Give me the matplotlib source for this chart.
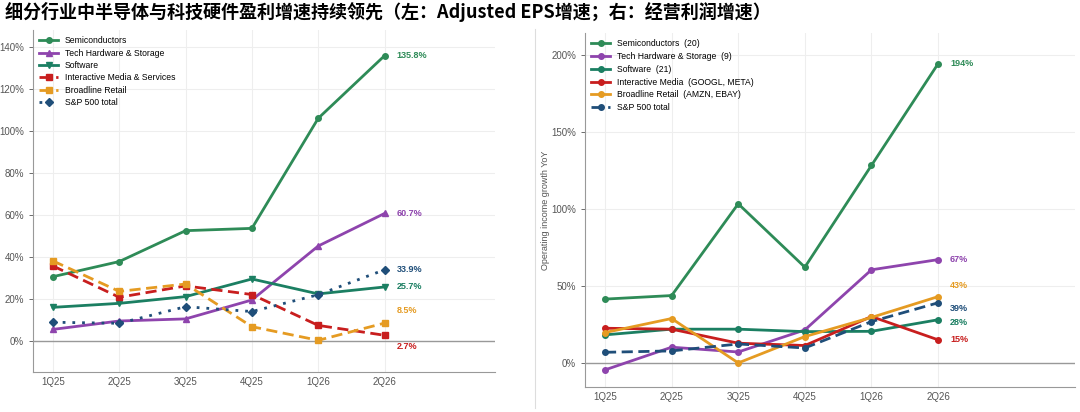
import matplotlib
matplotlib.use("Agg")
import matplotlib.pyplot as plt
from matplotlib.lines import Line2D
from matplotlib.ticker import FuncFormatter

plt.rcParams['font.family'] = ['Liberation Sans', 'DejaVu Sans']

quarters = ["1Q25", "2Q25", "3Q25", "4Q25", "1Q26", "2Q26"]

# 左：Adjusted EPS 增速 (%)
eps_semi = [30.6, 37.8, 52.5, 53.6, 106.0, 135.8]
eps_hw = [5.5, 9.5, 10.5, 19.5, 45.2, 60.7]
eps_soft = [16.0, 17.9, 21.1, 29.5, 22.4, 25.7]
eps_media = [35.7, 20.8, 26.2, 22.1, 7.4, 2.7]
eps_retail = [38.1, 23.6, 27.1, 6.8, 0.3, 8.5]
eps_spx = [8.9, 8.4, 16.3, 14.0, 22.0, 33.9]

# 右：经营利润增速 (%)
op_semi = [41.4, 43.7, 103.2, 62.1, 128.1, 194.0]
op_hw = [-4.5, 10.2, 7.1, 21.4, 60.4, 67.0]
op_soft = [18.2, 21.9, 21.9, 20.3, 20.5, 28.0]
op_media = [22.5, 21.9, 12.8, 11.3, 30.1, 15.0]
op_retail = [19.7, 28.8, 0.0, 17.1, 29.5, 43.0]
op_spx = [6.9, 7.8, 12.3, 9.7, 26.8, 39.0]

c_semi = "#2e8b57"
c_hw = "#8e44ad"
c_soft = "#1b7f62"
c_media = "#c81e1e"
c_retail = "#e59b22"
c_spx = "#1f4e79"

fig = plt.figure(figsize=(10.8, 4.12), dpi=100)
fig.text(0.005, 0.995, "细分行业中半导体与科技硬件盈利增速持续领先（左：Adjusted EPS增速；右：经营利润增速）",
         fontsize=13, fontweight="bold", va="top", ha="left",
         family=['Noto Sans CJK SC', 'DejaVu Sans'])

pct = FuncFormatter(lambda v, p: "%d%%" % v)


def style_axes(ax):
    for s in ["top", "right"]:
        ax.spines[s].set_visible(False)
    for s in ["left", "bottom"]:
        ax.spines[s].set_color("#999999")
        ax.spines[s].set_linewidth(0.8)
    ax.grid(True, color="#eeeeee", linewidth=0.8)
    ax.set_axisbelow(True)
    ax.tick_params(axis="both", labelsize=7, colors="#555555", length=3, width=0.6)
    ax.tick_params(axis="x", length=0)
    ax.axhline(0, color="#999999", linewidth=1, zorder=1)
    ax.yaxis.set_major_formatter(pct)


x = list(range(len(quarters)))

# ---- 左图
ax1 = fig.add_axes([0.0306, 0.097, 0.4274, 0.83])
series_l = [
    ("Semiconductors", eps_semi, c_semi, "o", "-"),
    ("Tech Hardware & Storage", eps_hw, c_hw, "^", "-"),
    ("Software", eps_soft, c_soft, "v", "-"),
    ("Interactive Media & Services", eps_media, c_media, "s", (0, (4, 2))),
    ("Broadline Retail", eps_retail, c_retail, "s", (0, (4, 2))),
    ("S&P 500 total", eps_spx, c_spx, "D", (0, (1, 2.5))),
]
for name, vals, col, mk, ls in series_l:
    ax1.plot(x, vals, color=col, marker=mk, linestyle=ls, linewidth=2, markersize=4, label=name)
ax1.set_xlim(-0.3, 6.66)
ax1.set_ylim(-14.8, 148)
ax1.set_yticks([0, 20, 40, 60, 80, 100, 120, 140])
ax1.set_xticks(x)
ax1.set_xticklabels(quarters)
style_axes(ax1)
lab_l = [(eps_semi, c_semi, 0), (eps_hw, c_hw, 0), (eps_soft, c_soft, 0),
         (eps_media, c_media, -5.5), (eps_retail, c_retail, 6), (eps_spx, c_spx, 0)]
for vals, col, dy in lab_l:
    ax1.text(5.18, vals[-1] + dy, "%.1f%%" % vals[-1], color=col, fontsize=6.5,
             fontweight="bold", va="center", ha="left")
ax1.legend(loc="upper left", bbox_to_anchor=(0.0, 1.0), fontsize=6.2, frameon=False,
           handlelength=2.2, labelspacing=0.4, borderaxespad=0.3)

# ---- 右图
ax2 = fig.add_axes([0.5417, 0.0607, 0.4533, 0.8593])
series_r = [
    ("Semiconductors  (20)", op_semi, c_semi, "-"),
    ("Tech Hardware & Storage  (9)", op_hw, c_hw, "-"),
    ("Software  (21)", op_soft, c_soft, "-"),
    ("Interactive Media  (GOOGL, META)", op_media, c_media, "-"),
    ("Broadline Retail  (AMZN, EBAY)", op_retail, c_retail, "-"),
    ("S&P 500 total", op_spx, c_spx, (0, (4, 2))),
]
for name, vals, col, ls in series_r:
    ax2.plot(x, vals, color=col, marker="o", linestyle=ls, linewidth=2, markersize=4, label=name)
ax2.set_xlim(-0.3, 7.05)
ax2.set_ylim(-15.6, 214)
ax2.set_yticks([0, 50, 100, 150, 200])
ax2.set_xticks(x)
ax2.set_xticklabels(quarters)
style_axes(ax2)
ax2.set_ylabel("Operating income growth YoY", fontsize=6.5, color="#555555", labelpad=1)
lab_r = [(op_semi, c_semi, 0), (op_hw, c_hw, 0), (op_soft, c_soft, -2),
         (op_media, c_media, 0), (op_retail, c_retail, 7), (op_spx, c_spx, -4)]
for vals, col, dy in lab_r:
    ax2.text(5.18, vals[-1] + dy, "%d%%" % round(vals[-1]), color=col, fontsize=6.5,
             fontweight="bold", va="center", ha="left")
ax2.legend(loc="upper left", bbox_to_anchor=(0.0, 1.0), fontsize=6.2, frameon=False,
           handlelength=2.2, labelspacing=0.45, borderaxespad=0.3)

# 截图面板的浅色边框
fig.add_artist(Line2D([535 / 1080, 535 / 1080], [0.01, 0.93], color="#dddddd", linewidth=0.8))

fig.savefig("out.png", dpi=100)
